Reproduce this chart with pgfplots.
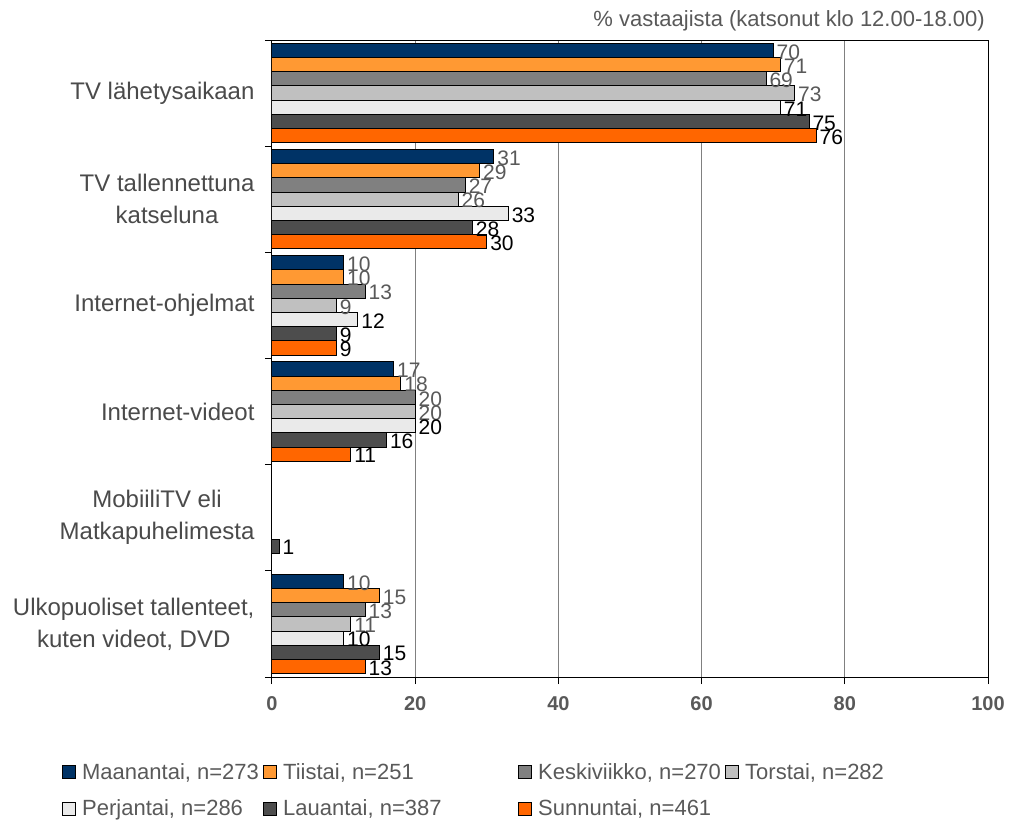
\documentclass[border=0pt]{standalone}
\usepackage{fontspec}
\setmainfont{Liberation Sans}
\usepackage{pgfplots}
\pgfplotsset{compat=1.18}

\definecolor{maa}{HTML}{003366}
\definecolor{tii}{HTML}{FF9933}
\definecolor{kes}{HTML}{808080}
\definecolor{tor}{HTML}{C0C0C0}
\definecolor{per}{HTML}{EAEAEA}
\definecolor{lau}{HTML}{4D4D4D}
\definecolor{sun}{HTML}{FF6600}
\definecolor{txt}{HTML}{595959}
\definecolor{cat}{HTML}{4A4A4A}

\begin{document}
\begin{tikzpicture}
\begin{axis}[
  scale only axis, width=716bp, height=637bp,
  xmin=0, xmax=100, ymin=-0.5, ymax=5.5, y dir=reverse,
  xbar, bar width=14.2bp,
  axis line style={black, line width=1bp},
  tick align=outside, major tick length=7bp,
  tick style={black, line width=1bp},
  xtick={0,20,...,100}, xtick pos=left, ytick pos=left,
  xmajorgrids, major grid style={kes, line width=1bp},
  /pgf/number format/assume math mode=true,
  xticklabel style={font=\fontsize{20bp}{24bp}\selectfont\bfseries, text=txt, yshift=-9bp},
  ytick={-0.5,0.5,1.5,2.5,3.5,4.5,5.5}, yticklabels={},
  extra y ticks={0,1,2,3,4,5},
  extra y tick labels={TV lähetysaikaan, {TV tallennettuna\\katseluna}, Internet-ohjelmat, Internet-videot, {MobiiliTV eli\\Matkapuhelimesta}, {Ulkopuoliset tallenteet,\\kuten videot, DVD}},
  extra y tick style={major tick length=0pt, yticklabel style={align=center, font=\fontsize{24bp}{32bp}\selectfont, text=cat, xshift=-14bp}},
  nodes near coords,
  every node near coord/.append style={anchor=west, xshift=1bp, yshift=-1.5bp, inner sep=2bp, font=\fontsize{21bp}{24bp}\selectfont},
  legend columns=4,
  legend style={draw=none, fill=none, at={(axis description cs:-0.2975,-0.129)}, anchor=north west,
    font=\fontsize{22bp}{26bp}\selectfont, text=txt, column sep=6bp, row sep=15bp,
    nodes={inner xsep=0pt, inner ysep=2bp}},
  legend image code/.code={\draw[#1, draw=black, line width=1bp] (0bp,-6.5bp) rectangle (13bp,6.5bp);},
]
\addplot[fill=maa, draw=black, line width=1bp, bar shift=42.6bp, every node near coord/.append style={text=txt}]
  coordinates {(70,0) (31,1) (10,2) (17,3) (10,5)};
\addlegendentry{\makebox[175bp][l]{Maanantai, n=273}}
\addplot[fill=tii, draw=black, line width=1bp, bar shift=28.4bp, every node near coord/.append style={text=txt}]
  coordinates {(71,0) (29,1) (10,2) (18,3) (15,5)};
\addlegendentry{\makebox[229bp][l]{Tiistai, n=251}}
\addplot[fill=kes, draw=black, line width=1bp, bar shift=14.2bp, every node near coord/.append style={text=txt}]
  coordinates {(69,0) (27,1) (13,2) (20,3) (13,5)};
\addlegendentry{\makebox[181bp][l]{Keskiviikko, n=270}}
\addplot[fill=tor, draw=black, line width=1bp, bar shift=0bp, every node near coord/.append style={text=txt}]
  coordinates {(73,0) (26,1) (9,2) (20,3) (11,5)};
\addlegendentry{\makebox[170bp][l]{Torstai, n=282}}
\addplot[fill=per, draw=black, line width=1bp, bar shift=-14.2bp, every node near coord/.append style={text=black}]
  coordinates {(71,0) (33,1) (12,2) (20,3) (10,5)};
\addlegendentry{\makebox[175bp][l]{Perjantai, n=286}}
\addplot[fill=lau, draw=black, line width=1bp, bar shift=-28.4bp, every node near coord/.append style={text=black}]
  coordinates {(75,0) (28,1) (9,2) (16,3) (1,4) (15,5)};
\addlegendentry{\makebox[229bp][l]{Lauantai, n=387}}
\addplot[fill=sun, draw=black, line width=1bp, bar shift=-42.6bp, every node near coord/.append style={text=black}]
  coordinates {(76,0) (30,1) (9,2) (11,3) (13,5)};
\addlegendentry{\makebox[181bp][l]{Sunnuntai, n=461}}
\coordinate (o) at (axis description cs:0,0);
\coordinate (ne) at (axis description cs:1,1);
\end{axis}
\node[anchor=base east, text=txt, font=\fontsize{22bp}{26bp}\selectfont, inner sep=0pt]
  at ([xshift=-3bp, yshift=13bp]ne) {\% vastaajista (katsonut klo 12.00-18.00)};
\path ([shift={(-272bp,-145bp)}]o) rectangle ++(1023bp,822bp);
\end{tikzpicture}
\end{document}
